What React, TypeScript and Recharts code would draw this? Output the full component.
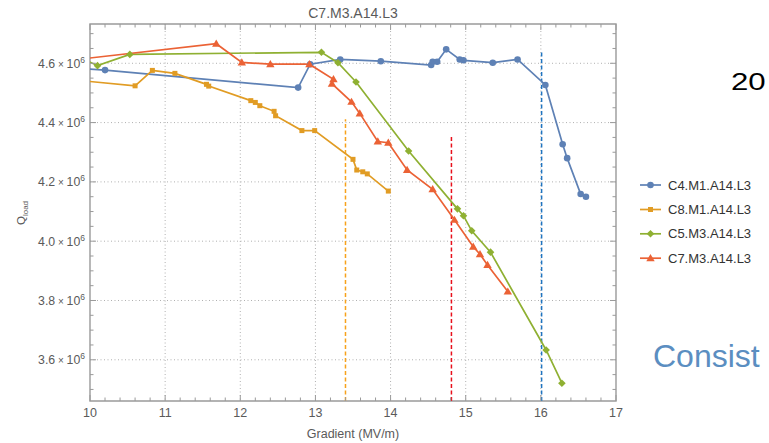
import React from 'react';
import { LineChart, Line, XAxis, YAxis, CartesianGrid, ReferenceLine, ReferenceArea } from 'recharts';

// ---------- data (Gradient MV/m, Q_load) ----------
const c4Gradient = [9.9, 10.2, 12.77, 12.93, 13.33, 13.87, 14.54, 14.56, 14.62, 14.74, 14.92, 14.97, 15.36, 15.69, 16.06, 16.29, 16.35, 16.53, 16.6];
const c4Q = [4.582e6, 4.577e6, 4.518e6, 4.597e6, 4.613e6, 4.607e6, 4.594e6, 4.605e6, 4.605e6, 4.647e6, 4.613e6, 4.61e6, 4.602e6, 4.613e6, 4.527e6, 4.327e6, 4.28e6, 4.159e6, 4.15e6];

const c8Gradient = [9.9, 10.6, 10.83, 11.13, 11.55, 11.58, 12.14, 12.2, 12.26, 12.45, 12.47, 12.82, 12.99, 13.5, 13.55, 13.63, 13.69, 13.97];
const c8Q = [4.541e6, 4.524e6, 4.576e6, 4.566e6, 4.529e6, 4.523e6, 4.474e6, 4.468e6, 4.457e6, 4.438e6, 4.423e6, 4.373e6, 4.373e6, 4.276e6, 4.24e6, 4.234e6, 4.227e6, 4.169e6];

const c5Gradient = [9.9, 10.1, 10.53, 13.08, 13.3, 13.54, 14.24, 14.89, 14.97, 15.08, 15.33, 16.07, 16.28];
const c5Q = [4.616e6, 4.592e6, 4.63e6, 4.637e6, 4.602e6, 4.537e6, 4.304e6, 4.109e6, 4.086e6, 4.035e6, 3.963e6, 3.633e6, 3.521e6];

const c7Gradient = [9.9, 11.68, 12.02, 12.4, 12.92, 13.24, 13.22, 13.48, 13.59, 13.83, 13.97, 14.22, 14.56, 14.85, 15.1, 15.19, 15.29, 15.56];
const c7Q = [4.615e6, 4.666e6, 4.603e6, 4.597e6, 4.597e6, 4.546e6, 4.531e6, 4.47e6, 4.431e6, 4.336e6, 4.332e6, 4.24e6, 4.175e6, 4.072e6, 3.981e6, 3.956e6, 3.92e6, 3.83e6];

// vertical dashed markers: gradient, top Q
const limitGradients = [13.4, 14.81, 16.01];
const limitTops = [4.411e6, 4.352e6, 4.64e6];

const seriesNames = ['C4.M1.A14.L3', 'C8.M1.A14.L3', 'C5.M3.A14.L3', 'C7.M3.A14.L3'];

// ticks
const xTicks = [10, 10.2, 10.4, 10.6, 10.8, 11, 11.2, 11.4, 11.6, 11.8, 12, 12.2, 12.4, 12.6, 12.8, 13, 13.2, 13.4, 13.6, 13.8, 14, 14.2, 14.4, 14.6, 14.8, 15, 15.2, 15.4, 15.6, 15.8, 16, 16.2, 16.4, 16.6, 16.8, 17];
const xMajor = [10, 11, 12, 13, 14, 15, 16, 17];
const xGrid = [11, 12, 13, 14, 15, 16];
const yTicks = [3.5e6, 3.55e6, 3.6e6, 3.65e6, 3.7e6, 3.75e6, 3.8e6, 3.85e6, 3.9e6, 3.95e6, 4.0e6, 4.05e6, 4.1e6, 4.15e6, 4.2e6, 4.25e6, 4.3e6, 4.35e6, 4.4e6, 4.45e6, 4.5e6, 4.55e6, 4.6e6, 4.65e6, 4.7e6];
const yMajor = [3.6e6, 3.8e6, 4.0e6, 4.2e6, 4.4e6, 4.6e6];
const yMajorLabels = ['3.6', '3.8', '4.0', '4.2', '4.4', '4.6'];

// ---------- layout ----------
const W = 769;
const H = 443;
const PLOT_LEFT = 90;
const PLOT_RIGHT = 616;
const PLOT_TOP = 24;
const PLOT_BOTTOM = 401;
const X_DOMAIN: [number, number] = [10, 17];
const Y_DOMAIN: [number, number] = [3.461e6, 4.7325e6];

const BLUE = '#5E81B5';
const ORANGE = '#E19C24';
const GREEN = '#8FB032';
const RED = '#EB6235';
const COLORS = [BLUE, ORANGE, GREEN, RED];
const LIMIT_COLORS = ['#F7A21B', '#E8101C', '#1F74C0'];
const FRAME = '#9a9a9a';
const LABEL = '#5a5a5a';
const FONT = '"Liberation Sans", Arial, Helvetica, sans-serif';

const zip = (g: number[], q: number[]) => g.map((v, i) => ({ g: v, q: q[i] }));
const c4Data = zip(c4Gradient, c4Q);
const c8Data = zip(c8Gradient, c8Q);
const c5Data = zip(c5Gradient, c5Q);
const c7Data = zip(c7Gradient, c7Q);

// ---------- markers ----------
const Marker = ({ kind, cx, cy, color }: { kind: number; cx: number; cy: number; color: string }) => {
  if (kind === 0) return <circle cx={cx} cy={cy} r={3.3} fill={color} />;
  if (kind === 1) return <rect x={cx - 2.5} y={cy - 2.5} width={5} height={5} fill={color} />;
  if (kind === 2)
    return <polygon points={`${cx},${cy - 3.8} ${cx + 3.8},${cy} ${cx},${cy + 3.8} ${cx - 3.8},${cy}`} fill={color} />;
  return <polygon points={`${cx},${cy - 4.2} ${cx + 4.2},${cy + 3} ${cx - 4.2},${cy + 3}`} fill={color} />;
};

const makeDot = (kind: number) => (p: any) => {
  if (p.cx == null || p.cy == null) return <g key={`d${kind}-${p.index}`} />;
  return (
    <g key={`d${kind}-${p.index}`}>
      <Marker kind={kind} cx={p.cx} cy={p.cy} color={COLORS[kind]} />
    </g>
  );
};

// ---------- ticks ----------
const XTick = (props: any) => {
  const { x, payload } = props;
  const v = payload.value as number;
  const major = xMajor.some((m) => Math.abs(m - v) < 1e-6);
  const len = major ? 6 : 3.5;
  return (
    <g>
      <line x1={x} x2={x} y1={PLOT_BOTTOM} y2={PLOT_BOTTOM - len} stroke={FRAME} strokeWidth={1} />
      <line x1={x} x2={x} y1={PLOT_TOP} y2={PLOT_TOP + len} stroke={FRAME} strokeWidth={1} />
      {major && (
        <text x={x} y={417} textAnchor="middle" fontSize={12.5} fill={LABEL} fontFamily={FONT}>
          {String(v)}
        </text>
      )}
    </g>
  );
};

const YTick = (props: any) => {
  const { y, payload } = props;
  const v = payload.value as number;
  const idx = yMajor.findIndex((m) => Math.abs(m - v) < 1);
  const major = idx >= 0;
  const len = major ? 6 : 3.5;
  return (
    <g>
      <line x1={PLOT_LEFT} x2={PLOT_LEFT + len} y1={y} y2={y} stroke={FRAME} strokeWidth={1} />
      <line x1={PLOT_RIGHT} x2={PLOT_RIGHT - len} y1={y} y2={y} stroke={FRAME} strokeWidth={1} />
      {major && (
        <text x={PLOT_LEFT - 5} y={y + 4.5} textAnchor="end" fontSize={12.3} fill={LABEL} fontFamily={FONT}>
          <tspan>{yMajorLabels[idx]}</tspan>
          <tspan fontSize={10}> × </tspan>
          <tspan>10</tspan>
          <tspan dy={-5} fontSize={8.5}>6</tspan>
        </text>
      )}
    </g>
  );
};

const legendRowsY = [185, 209.5, 233.8, 258.2];

export default function App() {
  return (
    <div
      style={{
        position: 'fixed',
        left: 0,
        top: 0,
        width: W,
        height: H,
        overflow: 'hidden',
        background: '#fff',
      }}
    >
      <LineChart
        width={W}
        height={H}
        margin={{ top: PLOT_TOP, right: W - PLOT_RIGHT, bottom: 0, left: 0 }}
      >
        <CartesianGrid
          horizontalValues={yMajor}
          verticalValues={xGrid}
          stroke="#b0b0b0"
          strokeDasharray="1 2.5"
          strokeWidth={1}
        />
        <XAxis
          type="number"
          dataKey="g"
          domain={X_DOMAIN}
          ticks={xTicks}
          interval={0}
          tick={XTick}
          tickLine={false}
          axisLine={false}
          height={H - PLOT_BOTTOM}
          allowDataOverflow
        />
        <YAxis
          type="number"
          dataKey="q"
          domain={Y_DOMAIN}
          ticks={yTicks}
          interval={0}
          tick={YTick}
          tickLine={false}
          axisLine={false}
          width={PLOT_LEFT}
          allowDataOverflow
        />
        <ReferenceArea
          x1={X_DOMAIN[0]}
          x2={X_DOMAIN[1]}
          y1={Y_DOMAIN[0]}
          y2={Y_DOMAIN[1]}
          fill="none"
          fillOpacity={0}
          stroke={FRAME}
          strokeWidth={1.4}
        />
        {limitGradients.map((g, i) => (
          <ReferenceLine
            key={`lim${i}`}
            segment={[
              { x: g, y: Y_DOMAIN[0] },
              { x: g, y: limitTops[i] },
            ]}
            stroke={LIMIT_COLORS[i]}
            strokeOpacity={1}
            strokeDasharray="4 2.5"
            strokeWidth={1.5}
          />
        ))}
        <Line data={c4Data} dataKey="q" name={seriesNames[0]} type="linear" stroke={BLUE} strokeWidth={1.7} dot={makeDot(0)} activeDot={false} isAnimationActive={false} />
        <Line data={c8Data} dataKey="q" name={seriesNames[1]} type="linear" stroke={ORANGE} strokeWidth={1.7} dot={makeDot(1)} activeDot={false} isAnimationActive={false} />
        <Line data={c5Data} dataKey="q" name={seriesNames[2]} type="linear" stroke={GREEN} strokeWidth={1.7} dot={makeDot(2)} activeDot={false} isAnimationActive={false} />
        <Line data={c7Data} dataKey="q" name={seriesNames[3]} type="linear" stroke={RED} strokeWidth={1.7} dot={makeDot(3)} activeDot={false} isAnimationActive={false} />
      </LineChart>

      <svg
        width={W}
        height={H}
        style={{ position: 'absolute', left: 0, top: 0, pointerEvents: 'none' }}
        fontFamily={FONT}
      >
        <text x={(PLOT_LEFT + PLOT_RIGHT) / 2} y={18} textAnchor="middle" fontSize={14} fill={LABEL}>
          C7.M3.A14.L3
        </text>
        <text x={(PLOT_LEFT + PLOT_RIGHT) / 2} y={438} textAnchor="middle" fontSize={12.5} fill={LABEL}>
          Gradient (MV/m)
        </text>
        <text x={25} y={213} textAnchor="middle" fontSize={11.5} fill={LABEL} transform="rotate(-90, 25, 213)">
          <tspan>Q</tspan>
          <tspan dy={3} fontSize={8}>load</tspan>
        </text>

        {seriesNames.map((name, i) => (
          <g key={name}>
            <line x1={640} x2={661} y1={legendRowsY[i]} y2={legendRowsY[i]} stroke={COLORS[i]} strokeWidth={1.7} />
            <Marker kind={i} cx={650.5} cy={legendRowsY[i]} color={COLORS[i]} />
            <text x={668} y={legendRowsY[i] + 4.5} fontSize={13} fill="#333">
              {name}
            </text>
          </g>
        ))}

        <text transform="translate(731, 90) scale(1.3, 1)" fontSize={24} fill="#000">
          20
        </text>
        <text x={653} y={367} fontSize={32} fill="#5B8EC1">
          Consist
        </text>
      </svg>
    </div>
  );
}
